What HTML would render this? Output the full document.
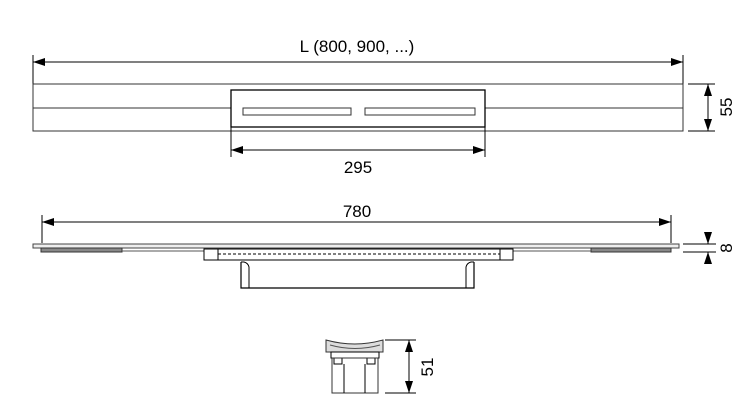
<!DOCTYPE html>
<html><head><style>
body{margin:0;background:#fff;}
svg{display:block;font-family:"Liberation Sans",sans-serif;}
</style></head><body>
<svg width="747" height="418" viewBox="0 0 747 418" xmlns="http://www.w3.org/2000/svg">
<defs>
<marker id="a" viewBox="0 0 12 8" refX="12" refY="4" markerWidth="12" markerHeight="8" orient="auto-start-reverse" markerUnits="userSpaceOnUse"><path d="M0,0L12,4L0,8z" fill="#000"/></marker>
</defs>
<g stroke="#000" fill="none" stroke-width="1">
<line x1="33" y1="55" x2="33" y2="84"/><line x1="683" y1="55" x2="683" y2="84"/>
<line x1="33" y1="62" x2="683" y2="62" marker-start="url(#a)" marker-end="url(#a)"/>
<rect x="33" y="84" width="650" height="47" stroke="#333"/>
<line x1="33" y1="108" x2="683" y2="108" stroke="#333"/>
<rect x="231" y="90" width="254" height="37" fill="#fff" stroke-width="1.3"/>
<rect x="243" y="108" width="108" height="7" stroke="#333"/>
<rect x="365" y="108" width="110" height="7" stroke="#333"/>
<line x1="231" y1="127" x2="231" y2="157"/><line x1="485" y1="127" x2="485" y2="157"/>
<line x1="231" y1="150" x2="485" y2="150" marker-start="url(#a)" marker-end="url(#a)"/>
<line x1="688" y1="84" x2="715" y2="84"/><line x1="688" y1="131" x2="715" y2="131"/>
<line x1="708" y1="84" x2="708" y2="131" marker-start="url(#a)" marker-end="url(#a)"/>
<line x1="42" y1="215" x2="42" y2="243"/><line x1="671" y1="215" x2="671" y2="243"/>
<line x1="42" y1="222" x2="671" y2="222" marker-start="url(#a)" marker-end="url(#a)"/>
<rect x="33" y="244" width="646" height="4" stroke="#444" fill="#eee"/>
<rect x="41" y="248" width="81" height="4" fill="#888" stroke="#333"/>
<rect x="591" y="248" width="80" height="4" fill="#888" stroke="#333"/>
<line x1="122" y1="251" x2="204" y2="251" stroke="#555"/><line x1="513" y1="251" x2="591" y2="251" stroke="#555"/>
<rect x="204" y="249" width="309" height="11" fill="#fff"/>
<line x1="218" y1="249" x2="218" y2="260"/><line x1="500" y1="249" x2="500" y2="260"/>
<line x1="218" y1="254" x2="500" y2="254" stroke-dasharray="3,2"/>
<path d="M241,262 L241,288 L474,288 L474,262" stroke-width="1.2"/>
<path d="M241,262 L244,262 Q248,263 249,267 L249,288"/>
<path d="M474,262 L471,262 Q467,263 466,267 L466,288"/>
<line x1="683" y1="244" x2="716" y2="244"/><line x1="683" y1="252" x2="716" y2="252"/>
<line x1="708" y1="232" x2="708" y2="244" marker-end="url(#a)"/>
<line x1="708" y1="264" x2="708" y2="252" marker-end="url(#a)"/>
<path d="M326,340 Q355,348 383,340 L383,352 L326,352 z" fill="#ddd" stroke="#333"/>
<path d="M330,345 Q355,352 380,345" stroke="#555"/>
<rect x="331" y="352" width="48" height="6"/>
<rect x="334" y="358" width="8" height="6"/><rect x="367" y="358" width="8" height="6"/>
<rect x="332" y="358" width="46" height="35" stroke="#333"/>
<line x1="344" y1="364" x2="344" y2="393"/><line x1="365" y1="364" x2="365" y2="393"/>
<line x1="385" y1="340" x2="416" y2="340"/><line x1="385" y1="393" x2="416" y2="393"/>
<line x1="409" y1="340" x2="409" y2="393" marker-start="url(#a)" marker-end="url(#a)"/>
</g>
<g font-size="17" fill="#000">
<text x="357" y="52" text-anchor="middle">L (800, 900, ...)</text>
<text x="358" y="173" text-anchor="middle">295</text>
<text x="357" y="217" text-anchor="middle">780</text>
<text transform="translate(732,107) rotate(-90)" text-anchor="middle">55</text>
<text transform="translate(732,248) rotate(-90)" text-anchor="middle">8</text>
<text transform="translate(433,367) rotate(-90)" text-anchor="middle">51</text>
</g>
</svg>
</body></html>
